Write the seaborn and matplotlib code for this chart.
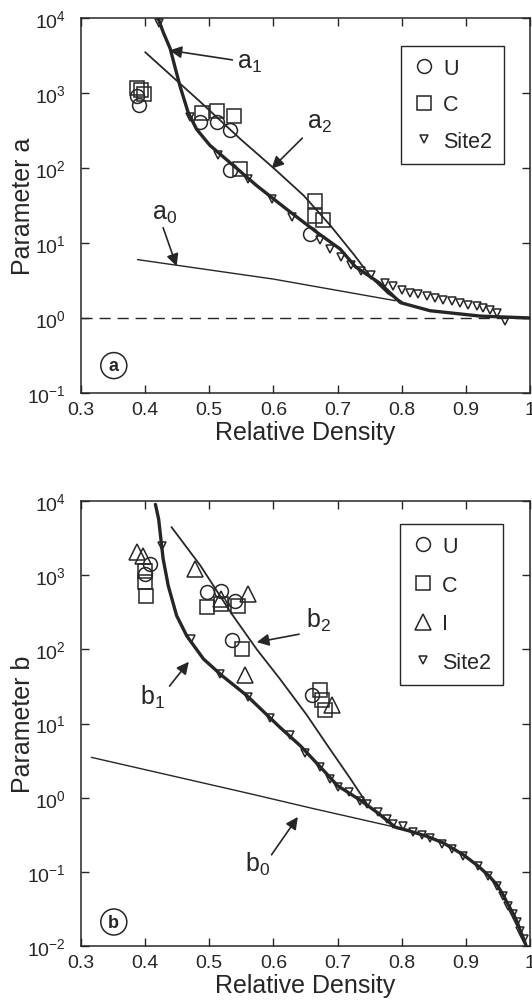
import numpy as np
import pandas as pd
import matplotlib
matplotlib.use('Agg')
import matplotlib.pyplot as plt
import seaborn as sns
from matplotlib.ticker import FixedLocator, FixedFormatter, LogFormatterSciNotation, NullLocator

# ---- panel (a): parameter a ----
a_u_x = [0.388, 0.390, 0.486, 0.512, 0.533, 0.533, 0.657]
a_u_y = [900, 700, 410, 410, 320, 93, 13.3]
a_c_x = [0.388, 0.394, 0.398, 0.488, 0.512, 0.538, 0.548, 0.665, 0.665, 0.677]
a_c_y = [1150, 1080, 980, 540, 580, 500, 97, 36, 23, 20]
a_site2_x = [0.422, 0.470, 0.514, 0.561, 0.598, 0.629, 0.673, 0.688, 0.705, 0.721, 0.737,
             0.752, 0.774, 0.787, 0.800, 0.813, 0.826, 0.839, 0.852, 0.865, 0.878, 0.891,
             0.904, 0.917, 0.927, 0.938, 0.948, 0.961]
a_site2_y = [8500, 480, 150, 71, 38, 22, 11, 8.4, 6.5, 5.1, 4.2,
             3.7, 2.9, 2.64, 2.38, 2.16, 2.07, 1.94, 1.85, 1.76, 1.66, 1.58,
             1.50, 1.43, 1.36, 1.28, 1.16, 0.90]

a1_x = [0.420, 0.428, 0.439, 0.454, 0.467, 0.480, 0.501, 0.538, 0.574, 0.621, 0.668,
        0.704, 0.728, 0.766, 0.798, 0.844, 0.922, 1.0]
a1_y = [10000, 6500, 3900, 1260, 550, 330, 200, 107, 58, 28, 13.8,
        8.3, 4.8, 2.9, 1.6, 1.25, 1.06, 1.0]
a2_x = [0.400, 0.486, 0.548, 0.600, 0.647, 0.689, 0.726, 0.752, 0.779, 0.800]
a2_y = [3500, 760, 245, 100, 43, 17, 6.9, 3.5, 2.1, 1.65]
a0_x = [0.388, 0.600, 0.790]
a0_y = [6.0, 3.3, 1.7]

# ---- panel (b): parameter b ----
b_u_x = [0.408, 0.400, 0.496, 0.519, 0.540, 0.535, 0.660]
b_u_y = [1400, 1050, 590, 610, 455, 132, 24]
b_c_x = [0.400, 0.400, 0.402, 0.496, 0.519, 0.545, 0.551, 0.673, 0.676, 0.680]
b_c_y = [1150, 800, 530, 370, 410, 390, 100, 28, 21, 15]
b_i_x = [0.387, 0.397, 0.478, 0.519, 0.561, 0.556, 0.691]
b_i_y = [2040, 1820, 1210, 480, 560, 45, 18]
b_site2_x = [0.426, 0.471, 0.517, 0.561, 0.595, 0.626, 0.649, 0.673, 0.688, 0.701, 0.717,
             0.735, 0.746, 0.763, 0.777, 0.787, 0.802, 0.818, 0.832, 0.844, 0.863, 0.879,
             0.896, 0.919, 0.935, 0.949, 0.958, 0.966, 0.974, 0.980, 0.985, 0.990]
b_site2_y = [2500, 140, 47, 22.5, 12, 6.9, 4.0, 2.6, 1.78, 1.4, 1.2,
             0.91, 0.83, 0.65, 0.52, 0.44, 0.41, 0.35, 0.31, 0.29, 0.24, 0.205,
             0.165, 0.12, 0.089, 0.065, 0.048, 0.035, 0.027, 0.021, 0.016, 0.0125]

b1_x = [0.416, 0.421, 0.428, 0.436, 0.449, 0.465, 0.491, 0.520, 0.558, 0.610, 0.642,
        0.673, 0.700, 0.735, 0.763, 0.790, 0.810, 0.840, 0.865, 0.896, 0.919, 0.935,
        0.949, 0.958, 0.966, 0.974, 0.980, 0.985, 0.990, 0.994]
b1_y = [9000, 5700, 1660, 720, 285, 151, 74, 44, 24, 8.9, 5.0,
        2.6, 1.45, 0.93, 0.62, 0.40, 0.36, 0.30, 0.245, 0.17, 0.12, 0.09,
        0.066, 0.049, 0.036, 0.027, 0.021, 0.016, 0.0125, 0.010]
b2_x = [0.441, 0.486, 0.535, 0.574, 0.610, 0.652, 0.686, 0.720, 0.745]
b2_y = [4450, 1350, 300, 100, 40, 13, 4.8, 1.8, 0.85]
b0_x = [0.316, 0.450, 0.560, 0.660, 0.790]
b0_y = [3.5, 1.9, 1.15, 0.72, 0.40]

x_ticks = [0.3, 0.4, 0.5, 0.6, 0.7, 0.8, 0.9, 1.0]
x_tick_labels = ['0.3', '0.4', '0.5', '0.6', '0.7', '0.8', '0.9', '1']

INK = '#262626'

sns.set_style('ticks')
plt.rcParams['font.family'] = ['Liberation Sans', 'DejaVu Sans']
plt.rcParams['mathtext.default'] = 'regular'
plt.rcParams['axes.unicode_minus'] = False


def curve(ax, x, y, lw):
    sns.lineplot(x=x, y=y, ax=ax, color=INK, lw=lw, sort=False, estimator=None)


def points(ax, x, y, marker, ms, label):
    sns.lineplot(x=x, y=y, ax=ax, ls='none', marker=marker, ms=ms, mfc='none',
                 mec=INK, mew=1.1, color=INK, label=label, sort=False, estimator=None)


def arrow(ax, tail, tip):
    ax.annotate('', xy=tip, xytext=tail,
                arrowprops=dict(arrowstyle='-|>', color=INK, lw=1.2,
                                mutation_scale=18, shrinkA=0, shrinkB=0))


def style_axis(ax, ylo, yhi, ylabel):
    ax.set_yscale('log')
    ax.set_xlim(0.3, 1.0)
    ax.set_ylim(ylo, yhi)
    ax.xaxis.set_major_locator(FixedLocator(x_ticks))
    ax.xaxis.set_major_formatter(FixedFormatter(x_tick_labels))
    decades = [10.0 ** k for k in range(int(np.log10(ylo)), int(np.log10(yhi)) + 1)]
    ax.yaxis.set_major_locator(FixedLocator(decades))
    ax.yaxis.set_major_formatter(LogFormatterSciNotation())
    ax.yaxis.set_minor_locator(NullLocator())
    ax.tick_params(direction='in', top=True, right=True, length=6, width=1.0,
                   labelsize=14, colors=INK)
    ax.tick_params(axis='x', pad=6)
    ax.tick_params(axis='y', pad=11)
    for sp in ax.spines.values():
        sp.set_linewidth(1.1)
        sp.set_color(INK)
    ax.set_xlabel('Relative Density', fontsize=18, color=INK, labelpad=1)
    ax.set_ylabel(ylabel, fontsize=18, color=INK, labelpad=-6)


def panel_tag(ax, letter, y):
    ax.text(0.073, y, letter, transform=ax.transAxes, ha='center', va='center',
            fontsize=13, fontweight='bold', color=INK,
            bbox=dict(boxstyle='circle,pad=0.25', fc='white', ec=INK, lw=1.1))


fig = plt.figure(figsize=(5.32, 10.03), dpi=100)
ax_a = fig.add_axes([0.1523, 0.6072, 0.844, 0.3739])
ax_b = fig.add_axes([0.1523, 0.0558, 0.844, 0.4437])

# panel a
style_axis(ax_a, 0.1, 1e4, 'Parameter a')
ax_a.axhline(1.0, color=INK, lw=1.0, ls=(0, (8, 5)))
curve(ax_a, a0_x, a0_y, 1.0)
curve(ax_a, a2_x, a2_y, 1.3)
curve(ax_a, a1_x, a1_y, 2.4)
points(ax_a, a_u_x, a_u_y, 'o', 10, 'U')
points(ax_a, a_c_x, a_c_y, 's', 9.5, 'C')
points(ax_a, a_site2_x, a_site2_y, 'v', 6, 'Site2')
ax_a.text(0.562, 2600, 'a$_1$', fontsize=18, ha='center', va='center', color=INK)
arrow(ax_a, (0.536, 2760), (0.438, 3700))
ax_a.text(0.672, 415, 'a$_2$', fontsize=18, ha='center', va='center', color=INK)
arrow(ax_a, (0.645, 250), (0.597, 98))
ax_a.text(0.430, 25, 'a$_0$', fontsize=18, ha='center', va='center', color=INK)
arrow(ax_a, (0.428, 16.0), (0.449, 4.9))
panel_tag(ax_a, 'a', 0.073)
ax_a.legend(loc='upper left', bbox_to_anchor=(0.713, 0.925), fontsize=15.5,
            frameon=True, fancybox=False, edgecolor=INK, framealpha=1,
            borderpad=0.55, labelspacing=0.72, handlelength=1.0, handletextpad=0.4,
            borderaxespad=0).get_frame().set_linewidth(1.0)

# panel b
style_axis(ax_b, 0.01, 1e4, 'Parameter b')
curve(ax_b, b0_x, b0_y, 1.0)
curve(ax_b, b2_x, b2_y, 1.3)
curve(ax_b, b1_x, b1_y, 2.4)
points(ax_b, b_u_x, b_u_y, 'o', 10, 'U')
points(ax_b, b_c_x, b_c_y, 's', 9.5, 'C')
points(ax_b, b_i_x, b_i_y, '^', 11, 'I')
points(ax_b, b_site2_x, b_site2_y, 'v', 6, 'Site2')
ax_b.text(0.670, 255, 'b$_2$', fontsize=18, ha='center', va='center', color=INK)
arrow(ax_b, (0.640, 160), (0.574, 125))
ax_b.text(0.412, 23, 'b$_1$', fontsize=18, ha='center', va='center', color=INK)
arrow(ax_b, (0.438, 32), (0.468, 68))
ax_b.text(0.576, 0.13, 'b$_0$', fontsize=18, ha='center', va='center', color=INK)
arrow(ax_b, (0.597, 0.17), (0.638, 0.55))
panel_tag(ax_b, 'b', 0.054)
ax_b.legend(loc='upper left', bbox_to_anchor=(0.711, 0.948), fontsize=15.5,
            frameon=True, fancybox=False, edgecolor=INK, framealpha=1,
            borderpad=0.55, labelspacing=0.82, handlelength=1.0, handletextpad=0.4,
            borderaxespad=0).get_frame().set_linewidth(1.0)

fig.savefig('out.png', dpi=100)
